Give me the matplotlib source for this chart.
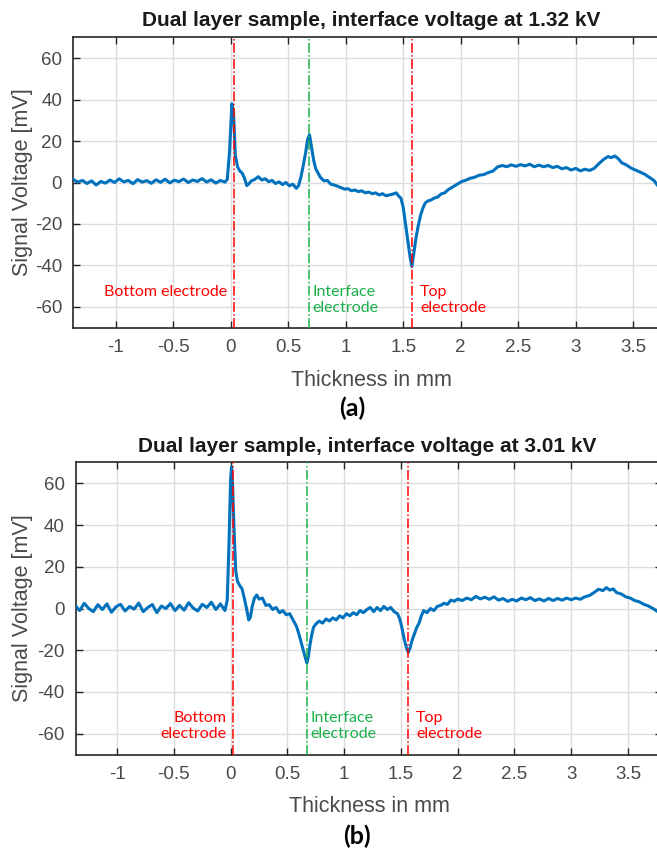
import matplotlib
matplotlib.use("Agg")
import matplotlib.pyplot as plt

plt.rcParams["axes.unicode_minus"] = False

# ---------------- data ----------------
baseline_x = [-1.37, -1.33, -1.29, -1.25, -1.21, -1.17, -1.13, -1.09, -1.05, -1.01,
              -0.97, -0.93, -0.89, -0.85, -0.81, -0.77, -0.73, -0.69, -0.65, -0.61,
              -0.57, -0.53, -0.49, -0.45, -0.41, -0.37, -0.33, -0.29, -0.25, -0.21,
              -0.17, -0.13, -0.09, -0.05]

a_base_y = [1.5, 0.2, 1.0, -0.5, 0.8, -1.2, 0.5, -0.3, 1.2, 0.0,
            1.8, 0.3, 1.0, -0.6, 1.4, 0.2, 0.9, -0.4, 1.3, 0.1,
            1.6, -0.2, 1.1, 0.4, 1.7, 0.0, 1.2, 0.5, 1.9, 0.2,
            1.3, -0.3, 1.0, 0.2]

a_x = [-0.03, -0.01, 0.01, 0.025, 0.04, 0.06, 0.08, 0.10, 0.12, 0.14, 0.16, 0.18,
       0.21, 0.24, 0.27, 0.30, 0.33, 0.36, 0.39, 0.42, 0.45, 0.48, 0.51, 0.54, 0.57,
       0.59, 0.61, 0.63, 0.65, 0.67, 0.685, 0.70, 0.72, 0.74, 0.76, 0.78, 0.81, 0.84,
       0.87, 0.90, 0.93, 0.96, 0.99, 1.02, 1.05, 1.08, 1.11, 1.14, 1.17, 1.20, 1.23,
       1.26, 1.29, 1.32, 1.35, 1.38, 1.41, 1.44, 1.46, 1.48, 1.50, 1.52, 1.54, 1.56,
       1.575, 1.59, 1.61, 1.63, 1.65, 1.67, 1.69, 1.71, 1.74, 1.77, 1.80, 1.83, 1.86,
       1.89, 1.92, 1.95, 1.98, 2.01, 2.04, 2.08, 2.12, 2.16, 2.20, 2.24, 2.28, 2.32,
       2.36, 2.40, 2.44, 2.48, 2.52, 2.56, 2.60, 2.64, 2.68, 2.72, 2.76, 2.80, 2.84,
       2.88, 2.92, 2.96, 3.00, 3.04, 3.08, 3.12, 3.16, 3.20, 3.24, 3.28, 3.31, 3.34,
       3.37, 3.40, 3.44, 3.48, 3.52, 3.56, 3.60, 3.64, 3.68, 3.72, 3.77, 3.82]
a_y = [1.5, 15, 38, 33, 13, 7.5, 5.5, 4.5, 2, -1.5, -0.5, 0.8,
       1.5, 2.8, 1.2, 1.8, 0.4, 1.0, -0.5, 0.3, -1.0, 0.0, -1.6, -0.8, -2.8,
       -1.5, 2.5, 8, 14, 21, 23, 18, 11, 6.5, 4.5, 2.5, 0.8, 1.0,
       -0.8, -1.2, -1.8, -2.5, -3.2, -3.0, -4.0, -3.6, -4.4, -4.0, -5.0, -4.6, -5.4,
       -5.0, -6.0, -5.4, -6.4, -6.0, -5.6, -5.0, -6.5, -7.5, -12, -20, -28, -36,
       -40.5, -35, -27, -21, -16, -12.5, -10, -9, -8.5, -7.5, -7.0, -5.5, -5.0,
       -3.5, -2.5, -1.5, -0.5, 0.5, 1.0, 2.0, 2.5, 3.5, 3.8, 4.8, 5.5, 7.5,
       8.2, 7.6, 8.5, 7.8, 8.6, 8.0, 8.8, 7.6, 8.4, 7.6, 8.2, 7.2, 7.8,
       6.6, 7.2, 6.0, 6.8, 5.6, 6.4, 5.8, 6.8, 9.0, 11.0, 12.5, 12.0, 12.8,
       11.5, 9.5, 8.5, 7.0, 6.0, 5.0, 4.0, 2.5, 1.0, -2.0, -3.0, -4.0]

b_base_y = [1.5, -1.0, 2.5, 0.0, -1.5, 1.8, -0.5, 2.2, -1.8, 0.8,
            2.0, -1.2, 1.0, -0.3, 2.6, -1.5, 0.5, 1.9, -2.0, 1.2,
            0.0, 2.4, -1.0, 1.5, -0.8, 2.8, 0.2, -1.2, 2.0, 0.5,
            3.0, -0.5, 2.2, -1.0]

b_x = [-0.03, -0.015, 0.0, 0.008, 0.018, 0.03, 0.045, 0.06, 0.08, 0.10, 0.12, 0.14,
       0.16, 0.175, 0.19, 0.21, 0.23, 0.25, 0.28, 0.31, 0.34, 0.37, 0.40, 0.43, 0.46,
       0.49, 0.52, 0.55, 0.58, 0.60, 0.62, 0.64, 0.66, 0.672, 0.685, 0.70, 0.715, 0.73,
       0.75, 0.78, 0.81, 0.84, 0.87, 0.90, 0.93, 0.96, 0.99, 1.02, 1.05, 1.08, 1.11,
       1.14, 1.17, 1.20, 1.23, 1.26, 1.29, 1.32, 1.35, 1.38, 1.41, 1.44, 1.47, 1.49,
       1.51, 1.53, 1.55, 1.565, 1.58, 1.60, 1.62, 1.64, 1.66, 1.68, 1.70, 1.73, 1.76,
       1.79, 1.82, 1.85, 1.88, 1.91, 1.94, 1.97, 2.00, 2.04, 2.08, 2.12, 2.16, 2.20,
       2.24, 2.28, 2.32, 2.36, 2.40, 2.44, 2.48, 2.52, 2.56, 2.60, 2.64, 2.68, 2.72,
       2.76, 2.80, 2.84, 2.88, 2.92, 2.96, 3.00, 3.04, 3.08, 3.12, 3.16, 3.20, 3.24,
       3.28, 3.31, 3.34, 3.37, 3.40, 3.44, 3.48, 3.52, 3.56, 3.60, 3.64, 3.68, 3.72,
       3.76, 3.80]
b_y = [4, 30, 62, 68, 58, 38, 18, 13, 11, 9.5, 5, 0,
       -5.5, -4, 1, 5, 6.5, 4.5, 5, 1.5, 1.8, -0.5, 0.5, -2, -1,
       -3, -2.5, -5.5, -8.5, -12, -16, -20, -24, -26, -23, -17, -12.5, -9,
       -7.5, -6, -7, -5, -6, -4.5, -5.5, -3.5, -4.5, -2.5, -3.5, -2, -3,
       -1, -2, -0.5, 0.5, -1.5, 0.5, -1, 1, -0.5, 0.5, -1.5, -2.5, -5,
       -9.5, -15, -19, -21, -19, -15, -12, -9, -7, -3.5, -1, -2, 0,
       -1, 1, 1.5, 2.5, 2, 4, 3.5, 4.5, 3.8, 5, 4.2, 5.8, 4.6,
       5.4, 4.4, 5.6, 4.0, 4.8, 3.4, 4.4, 3.6, 5.0, 4.2, 5.2, 3.8, 4.6,
       3.6, 4.8, 3.8, 4.8, 4.0, 5.0, 4.2, 5.0, 4.4, 5.6, 6.2, 7.6, 9.2,
       8.6, 10.0, 8.8, 9.4, 7.6, 7.0, 5.6, 5.0, 3.8, 3.2, 2.0, 1.2, 0.0,
       -1.5, -2.5]

a_lines = [0.025, 0.678, 1.578]
b_lines = [0.02, 0.671, 1.562]
line_colors = ["#FF0000", "#1AAF4B", "#FF0000"]

xticks = [-1, -0.5, 0, 0.5, 1, 1.5, 2, 2.5, 3, 3.5]
xticklabels = ["-1", "-0.5", "0", "0.5", "1", "1.5", "2", "2.5", "3", "3.5"]
yticks = [-60, -40, -20, 0, 20, 40, 60]
yticklabels = ["-60", "-40", "-20", "0", "20", "40", "60"]

titles = ["Dual layer sample, interface voltage at 1.32 kV",
          "Dual layer sample, interface voltage at 3.01 kV"]

# ---------------- figure ----------------
W, H = 657, 852
fig = plt.figure(figsize=(W / 100, H / 100), dpi=100)

sans = ["Liberation Sans", "DejaVu Sans"]
cal = ["Lato", "DejaVu Sans"]
tick_col = "#4a4a4a"
blue = "#0072BD"
ann_fs = 11.5


def make_axes(left_px, right_px, top_px, bottom_px, xlim):
    ax = fig.add_axes([left_px / W, 1 - bottom_px / H,
                       (right_px - left_px) / W, (bottom_px - top_px) / H])
    ax.set_xlim(*xlim)
    ax.set_ylim(-70, 70)
    ax.set_xticks(xticks)
    ax.set_xticklabels(xticklabels)
    ax.set_yticks(yticks)
    ax.set_yticklabels(yticklabels)
    ax.grid(True, color="#dcdcdc", linewidth=1.0)
    ax.set_axisbelow(True)
    ax.tick_params(direction="in", length=5, width=1, colors="#262626",
                   labelcolor=tick_col, labelsize=13.5, top=True, right=True,
                   pad=8)
    for lab in ax.get_xticklabels() + ax.get_yticklabels():
        lab.set_family(sans)
    for s in ax.spines.values():
        s.set_color("#262626")
        s.set_linewidth(1.2)
    return ax


# panel (a)
axa = make_axes(73.3, 670, 37.3, 327.7, (-1.369, 3.82))
axa.plot(baseline_x + a_x, a_base_y + a_y, color=blue, linewidth=2.2, zorder=3)
for xv, c in zip(a_lines, line_colors):
    axa.axvline(xv, color=c, linestyle="-.", linewidth=1.1, zorder=4)
axa.text(-0.03, -53, "Bottom electrode", color="#FF0000", ha="right", va="center",
         fontsize=ann_fs, family=cal)
axa.text(0.71, -53, "Interface", color="#1AAF4B", ha="left", va="center",
         fontsize=ann_fs, family=cal)
axa.text(0.71, -60.4, "electrode", color="#1AAF4B", ha="left", va="center",
         fontsize=ann_fs, family=cal)
axa.text(1.645, -53, "Top", color="#FF0000", ha="left", va="center",
         fontsize=ann_fs, family=cal)
axa.text(1.645, -60.4, "electrode", color="#FF0000", ha="left", va="center",
         fontsize=ann_fs, family=cal)

# panel (b)
axb = make_axes(75.8, 662, 462.4, 754.6, (-1.364, 3.80))
axb.plot(baseline_x + b_x, b_base_y + b_y, color=blue, linewidth=2.2, zorder=3)
for xv, c in zip(b_lines, line_colors):
    axb.axvline(xv, color=c, linestyle="-.", linewidth=1.1, zorder=4)
axb.text(-0.037, -52.6, "Bottom", color="#FF0000", ha="right", va="center",
         fontsize=ann_fs, family=cal)
axb.text(-0.037, -60.1, "electrode", color="#FF0000", ha="right", va="center",
         fontsize=ann_fs, family=cal)
axb.text(0.70, -52.6, "Interface", color="#1AAF4B", ha="left", va="center",
         fontsize=ann_fs, family=cal)
axb.text(0.70, -60.1, "electrode", color="#1AAF4B", ha="left", va="center",
         fontsize=ann_fs, family=cal)
axb.text(1.632, -52.6, "Top", color="#FF0000", ha="left", va="center",
         fontsize=ann_fs, family=cal)
axb.text(1.632, -60.1, "electrode", color="#FF0000", ha="left", va="center",
         fontsize=ann_fs, family=cal)

# titles, labels
fig.text(371 / W, 1 - 20.7 / H, titles[0], ha="center", va="center",
         fontsize=15, fontweight="bold", family=sans, color="#1a1a1a")
fig.text(367 / W, 1 - 446.7 / H, titles[1], ha="center", va="center",
         fontsize=15, fontweight="bold", family=sans, color="#1a1a1a")
fig.text(371 / W, 1 - 380 / H, "Thickness in mm", ha="center", va="center",
         fontsize=15.5, family=sans, color=tick_col)
fig.text(369 / W, 1 - 806.7 / H, "Thickness in mm", ha="center", va="center",
         fontsize=15.5, family=sans, color=tick_col)
fig.text(23 / W, 1 - (37.3 + 327.7) / 2 / H, "Signal Voltage [mV]", ha="center",
         va="center", rotation=90, fontsize=15.5, family=sans, color=tick_col)
fig.text(23 / W, 1 - (462.4 + 754.6) / 2 / H, "Signal Voltage [mV]", ha="center",
         va="center", rotation=90, fontsize=15.5, family=sans, color=tick_col)
fig.text(352 / W, 1 - 408 / H, "(a)", ha="center", va="center", fontsize=18,
         fontweight="bold", family=cal, color="black")
fig.text(357 / W, 1 - 836 / H, "(b)", ha="center", va="center", fontsize=18,
         fontweight="bold", family=cal, color="black")

fig.savefig("out.png", dpi=100)
